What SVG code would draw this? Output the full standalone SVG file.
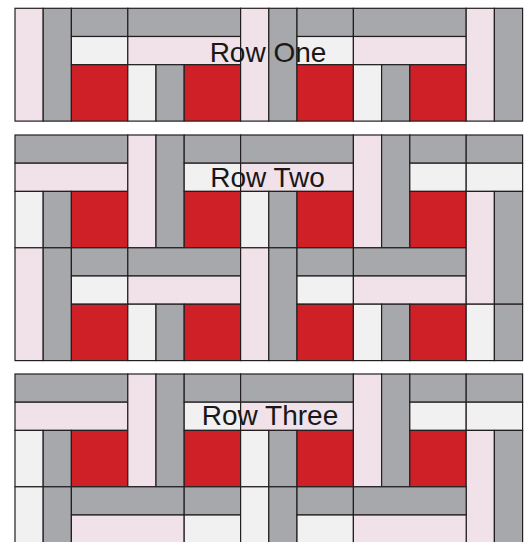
<svg xmlns="http://www.w3.org/2000/svg" xmlns:xlink="http://www.w3.org/1999/xlink" width="527" height="542" viewBox="0 0 527 542">
<style>
rect{stroke:#231F20;stroke-width:1.2}
rect.bg{stroke:none;fill:#FFFFFF}
.g{fill:#A6A8AB}
.p{fill:#F0E2E8}
.w{fill:#F1F1F1}
.r{fill:#CF2027}
text{font-family:"Liberation Sans",Arial,sans-serif;font-size:28px;fill:#1A1718;text-anchor:middle}
</style>
<rect class="bg" x="0" y="0" width="527" height="542"/>
<defs>
<g id="unitA">
<rect class="p" x="0" y="0" width="28.2" height="112.8"/>
<rect class="g" x="28.2" y="0" width="28.2" height="112.8"/>
<rect class="g" x="56.4" y="0" width="56.4" height="28.2"/>
<rect class="g" x="112.8" y="0" width="112.8" height="28.2"/>
<rect class="w" x="56.4" y="28.2" width="56.4" height="28.2"/>
<rect class="p" x="112.8" y="28.2" width="112.8" height="28.2"/>
<rect class="r" x="56.4" y="56.4" width="56.4" height="56.4"/>
<rect class="w" x="112.8" y="56.4" width="28.2" height="56.4"/>
<rect class="g" x="141" y="56.4" width="28.2" height="56.4"/>
<rect class="r" x="169.2" y="56.4" width="56.4" height="56.4"/>
</g>
<g id="unitB">
<rect class="g" x="0" y="0" width="112.8" height="28.2"/>
<rect class="p" x="0" y="28.2" width="112.8" height="28.2"/>
<rect class="w" x="0" y="56.4" width="28.2" height="56.4"/>
<rect class="g" x="28.2" y="56.4" width="28.2" height="56.4"/>
<rect class="r" x="56.4" y="56.4" width="56.4" height="56.4"/>
<rect class="p" x="112.8" y="0" width="28.2" height="112.8"/>
<rect class="g" x="141" y="0" width="28.2" height="112.8"/>
<rect class="g" x="169.2" y="0" width="56.4" height="28.2"/>
<rect class="w" x="169.2" y="28.2" width="56.4" height="28.2"/>
<rect class="r" x="169.2" y="56.4" width="56.4" height="56.4"/>
</g>
</defs>

<g id="row-one">
<use xlink:href="#unitA" href="#unitA" x="15" y="8.3"/>
<use xlink:href="#unitA" href="#unitA" x="240.6" y="8.3"/>
<rect class="p" x="466.2" y="8.3" width="28.2" height="112.8"/>
<rect class="g" x="494.4" y="8.3" width="28.2" height="112.8"/>
<text x="268" y="61.7">Row One</text>
</g>

<g id="row-two">
<use xlink:href="#unitB" href="#unitB" x="15" y="135"/>
<use xlink:href="#unitB" href="#unitB" x="240.6" y="135"/>
<rect class="g" x="466.2" y="135" width="56.4" height="28.2"/>
<rect class="w" x="466.2" y="163.2" width="56.4" height="28.2"/>
<use xlink:href="#unitA" href="#unitA" x="15" y="247.8"/>
<use xlink:href="#unitA" href="#unitA" x="240.6" y="247.8"/>
<rect class="p" x="466.2" y="191.4" width="28.2" height="112.8"/>
<rect class="g" x="494.4" y="191.4" width="28.2" height="112.8"/>
<rect class="w" x="466.2" y="304.2" width="28.2" height="56.4"/>
<rect class="g" x="494.4" y="304.2" width="28.2" height="56.4"/>
<text x="267.5" y="186.7">Row Two</text>
</g>

<g id="row-three">
<use xlink:href="#unitB" href="#unitB" x="15" y="374"/>
<use xlink:href="#unitB" href="#unitB" x="240.6" y="374"/>
<rect class="g" x="466.2" y="374" width="56.4" height="28.2"/>
<rect class="w" x="466.2" y="402.2" width="56.4" height="28.2"/>
<rect class="p" x="466.2" y="430.4" width="28.2" height="130"/>
<rect class="g" x="494.4" y="430.4" width="28.2" height="130"/>
<rect class="w" x="15" y="486.8" width="28.2" height="80"/>
<rect class="g" x="43.2" y="486.8" width="28.2" height="80"/>
<rect class="g" x="71.4" y="486.8" width="112.8" height="28.2"/>
<rect class="p" x="71.4" y="515" width="112.8" height="28.2"/>
<rect class="g" x="184.2" y="486.8" width="56.4" height="28.2"/>
<rect class="w" x="184.2" y="515" width="56.4" height="28.2"/>
<rect class="w" x="240.6" y="486.8" width="28.2" height="80"/>
<rect class="g" x="268.8" y="486.8" width="28.2" height="80"/>
<rect class="g" x="297" y="486.8" width="56.4" height="28.2"/>
<rect class="w" x="297" y="515" width="56.4" height="28.2"/>
<rect class="g" x="353.4" y="486.8" width="112.8" height="28.2"/>
<rect class="p" x="353.4" y="515" width="112.8" height="28.2"/>
<text x="270" y="425">Row Three</text>
</g>
</svg>
